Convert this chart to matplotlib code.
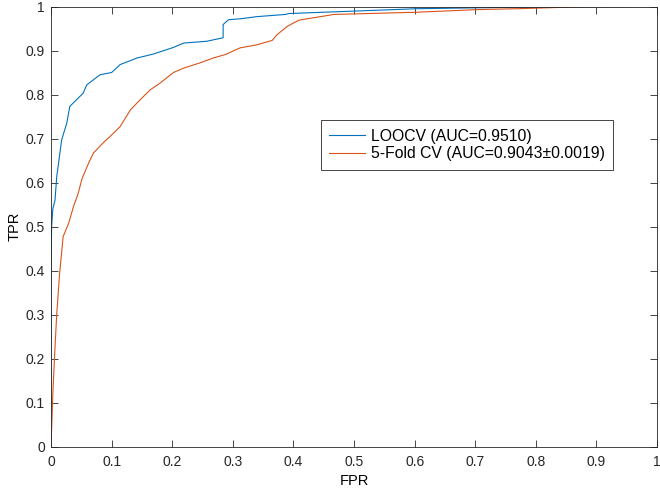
import matplotlib
matplotlib.use("Agg")
import matplotlib.pyplot as plt
import numpy as np

# ROC points
loocv_fpr = [0, 0, 0.001, 0.003, 0.0066, 0.0094, 0.0176, 0.026, 0.031, 0.053, 0.059,
             0.081, 0.100, 0.114, 0.142, 0.169, 0.202, 0.219, 0.257, 0.284, 0.284,
             0.293, 0.312, 0.340, 0.387, 0.392, 0.489, 0.604, 0.80, 1.0]
loocv_tpr = [0, 0.40, 0.50, 0.54, 0.56, 0.613, 0.697, 0.735, 0.773, 0.803, 0.822,
             0.845, 0.850, 0.868, 0.883, 0.892, 0.907, 0.917, 0.921, 0.929, 0.959,
             0.970, 0.972, 0.977, 0.982, 0.984, 0.989, 0.995, 0.999, 1.0]

kfold_fpr = [0, 0.003, 0.0066, 0.0094, 0.014, 0.020, 0.029, 0.037, 0.045, 0.051,
             0.062, 0.070, 0.086, 0.100, 0.114, 0.131, 0.147, 0.164, 0.180, 0.202,
             0.219, 0.246, 0.268, 0.288, 0.312, 0.340, 0.365, 0.373, 0.390, 0.409,
             0.467, 0.604, 0.704, 0.770, 0.84, 0.88, 1.0]
kfold_tpr = [0, 0.12, 0.226, 0.30, 0.39, 0.477, 0.507, 0.545, 0.576, 0.608,
             0.644, 0.667, 0.690, 0.708, 0.727, 0.765, 0.788, 0.811, 0.826, 0.850,
             0.860, 0.872, 0.883, 0.891, 0.906, 0.913, 0.923, 0.936, 0.955, 0.969,
             0.982, 0.987, 0.993, 0.995, 0.998, 1.0, 1.0]

labels = ["LOOCV (AUC=0.9510)", "5-Fold CV (AUC=0.9043\u00b10.0019)"]
ticks = np.round(np.arange(0, 1.01, 0.1), 1)
tick_labels = ["0", "0.1", "0.2", "0.3", "0.4", "0.5", "0.6", "0.7", "0.8", "0.9", "1"]

plt.rcParams["font.family"] = ["Liberation Sans", "DejaVu Sans"]
plt.rcParams["font.size"] = 10

fig = plt.figure(figsize=(6.6, 4.93), dpi=100)
ax = fig.add_axes([0.0773, 0.0943, 0.9182, 0.8925])

ax.plot(loocv_fpr, loocv_tpr, color=(0, 0.447, 0.741), lw=0.8, label=labels[0])
ax.plot(kfold_fpr, kfold_tpr, color=(0.85, 0.325, 0.098), lw=0.8, label=labels[1])

ax.set_xlim(0, 1)
ax.set_ylim(0, 1)
ax.set_xticks(ticks)
ax.set_xticklabels(tick_labels)
ax.set_yticks(ticks)
ax.set_yticklabels(tick_labels)
ax.set_xlabel("FPR", labelpad=3.5, fontsize=10.5)
ax.set_ylabel("TPR", labelpad=3, fontsize=10.5)

axc = (0.15, 0.15, 0.15)
for s in ax.spines.values():
    s.set_color(axc)
    s.set_linewidth(0.6)
ax.tick_params(direction="in", top=True, right=True, length=5, width=0.6,
               color=axc, labelcolor=axc, labelsize=10)
ax.tick_params(axis="x", pad=6)
ax.tick_params(axis="y", pad=4.5)

leg = ax.legend(loc="upper left", bbox_to_anchor=(0.445, 0.742), fancybox=False,
                framealpha=1, edgecolor=axc, borderaxespad=0, handlelength=2.3,
                handletextpad=0.33, borderpad=0.55, labelspacing=0.18, fontsize=11.3)
leg.get_frame().set_linewidth(0.6)

plt.savefig("out.png", dpi=100)
